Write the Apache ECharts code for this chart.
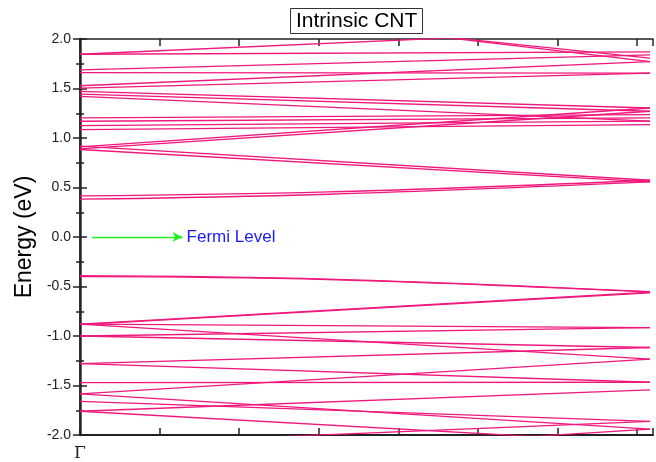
<!DOCTYPE html>
<html>
<head>
<meta charset="utf-8">
<script src="https://cdn.jsdelivr.net/npm/echarts@6/dist/echarts.min.js"></script>
<style>
  html, body { margin: 0; padding: 0; background: #fff; }
  #chart { width: 656px; height: 462px; }
</style>
</head>
<body>
<div id="chart"></div>
<script>
// band energies (eV) at Γ (k=0) and at the zone edge (k=1)
const gammaE = [
  -0.88, -0.885, -0.88, -1.0, -0.88, -1.0, -1.28, -1.28, -1.47, -1.585,
  -1.585, -1.66, -1.76, -1.76, -2.3, -2.1,
  0.918, 0.884, 0.91, 0.89, 1.085, 1.126, 1.169, 1.203, 1.42, 1.444,
  1.47, 1.504, 1.528, 1.66, 1.688, 1.846, 1.846, 2.45, 2.4
]
const edgeE = [
  -0.556, -0.565, -0.915, -0.915, -1.233, -1.116, -1.116, -1.467, -1.467, -1.233,
  -1.94, -1.863, -1.545, -2.08, -1.94, -1.863,
  0.573, 0.556, 1.303, 1.27, 1.136, 1.17, 1.203, 1.236, 1.17, 1.27,
  1.303, 1.655, 1.772, 1.655, 1.84, 2.1, 1.87, 1.772, 1.806
]
// bands that are flat near Γ, sampled at three k points
const curvedK = [0, 0.436, 1]
const curvedE = [
  [-0.40, -0.43, -0.556],
  [-0.39, -0.425, -0.552],
  [0.382, 0.432, 0.556],
  [0.415, 0.455, 0.573]
]
const fermiFrom = 0.021
const fermiTo = 0.18

const chart = echarts.init(document.getElementById('chart'))
const pink = '#f0187c'

const series = []
gammaE.forEach((e0, i) => {
  series.push({
    type: 'line', data: [[0, e0], [1, edgeE[i]]],
    symbol: 'none', silent: true,
    lineStyle: { color: pink, width: 1.3 }
  })
})
curvedE.forEach(row => {
  series.push({
    type: 'line', data: row.map((e, j) => [curvedK[j], e]),
    smooth: 0.4, symbol: 'none', silent: true,
    lineStyle: { color: pink, width: 1.3 }
  })
})
// Fermi level arrow
series.push({
  type: 'line', data: [], symbol: 'none',
  markLine: {
    silent: true,
    symbol: ['none', 'arrow'], symbolSize: [7, 10],
    lineStyle: { color: '#22ee22', width: 1.3, type: 'solid' },
    label: {
      show: true, position: 'end', formatter: 'Fermi Level',
      color: '#1a1aff', fontSize: 17, fontFamily: 'Liberation Sans', distance: 4
    },
    data: [[{ coord: [fermiFrom, 0] }, { coord: [fermiTo, 0] }]]
  }
})

const option = {
  animation: false,
  title: {
    text: 'Intrinsic CNT', left: 290, top: 8,
    padding: [3, 5, 2, 6],
    borderColor: '#333', borderWidth: 1,
    textStyle: { fontSize: 21, fontWeight: 'normal', color: '#000', fontFamily: 'Liberation Sans' }
  },
  grid: { left: 80, top: 39, width: 576, height: 398 },
  xAxis: [{
    type: 'value', min: 0, max: 1.0052, interval: 0.13962,
    axisLine: { onZero: false, lineStyle: { color: '#222', width: 2 } },
    axisTick: { inside: true, length: 7, lineStyle: { color: '#222', width: 1.5 } },
    splitLine: { show: false },
    axisLabel: {
      formatter: v => (v === 0 ? 'Γ' : ''), fontSize: 17, color: '#222',
      fontFamily: 'DejaVu Serif', margin: 10
    }
  }, {
    type: 'value', position: 'top', min: 0, max: 1.0052, interval: 0.13962,
    axisLine: { onZero: false, lineStyle: { color: '#222', width: 1.5 } },
    axisTick: { inside: true, length: 7, lineStyle: { color: '#222', width: 1.5 } },
    axisLabel: { show: false }, splitLine: { show: false }
  }],
  yAxis: [{
    type: 'value', min: -2, max: 2, interval: 0.5,
    name: 'Energy (eV)', nameLocation: 'middle', nameGap: 44,
    nameTextStyle: { fontSize: 23, color: '#000', fontFamily: 'Liberation Sans' },
    axisLine: { lineStyle: { color: '#333', width: 2.5 } },
    axisTick: { inside: true, length: 7, lineStyle: { color: '#222', width: 1.5 } },
    minorTick: { show: true, splitNumber: 2, length: 4, lineStyle: { color: '#222', width: 1.5 } },
    splitLine: { show: false },
    axisLabel: {
      formatter: v => v.toFixed(1), fontSize: 14, color: '#222',
      fontFamily: 'Liberation Sans', margin: 9
    }
  }, {
    type: 'value', position: 'right', min: -2, max: 2, interval: 0.5,
    axisLine: { lineStyle: { color: '#222', width: 1.5 } },
    axisTick: { inside: true, length: 7, lineStyle: { color: '#222', width: 1.5 } },
    minorTick: { show: true, splitNumber: 2, length: 4, lineStyle: { color: '#222', width: 1.5 } },
    axisLabel: { show: false }, splitLine: { show: false }
  }],
  series: series
}
chart.setOption(option)
</script>
</body>
</html>
